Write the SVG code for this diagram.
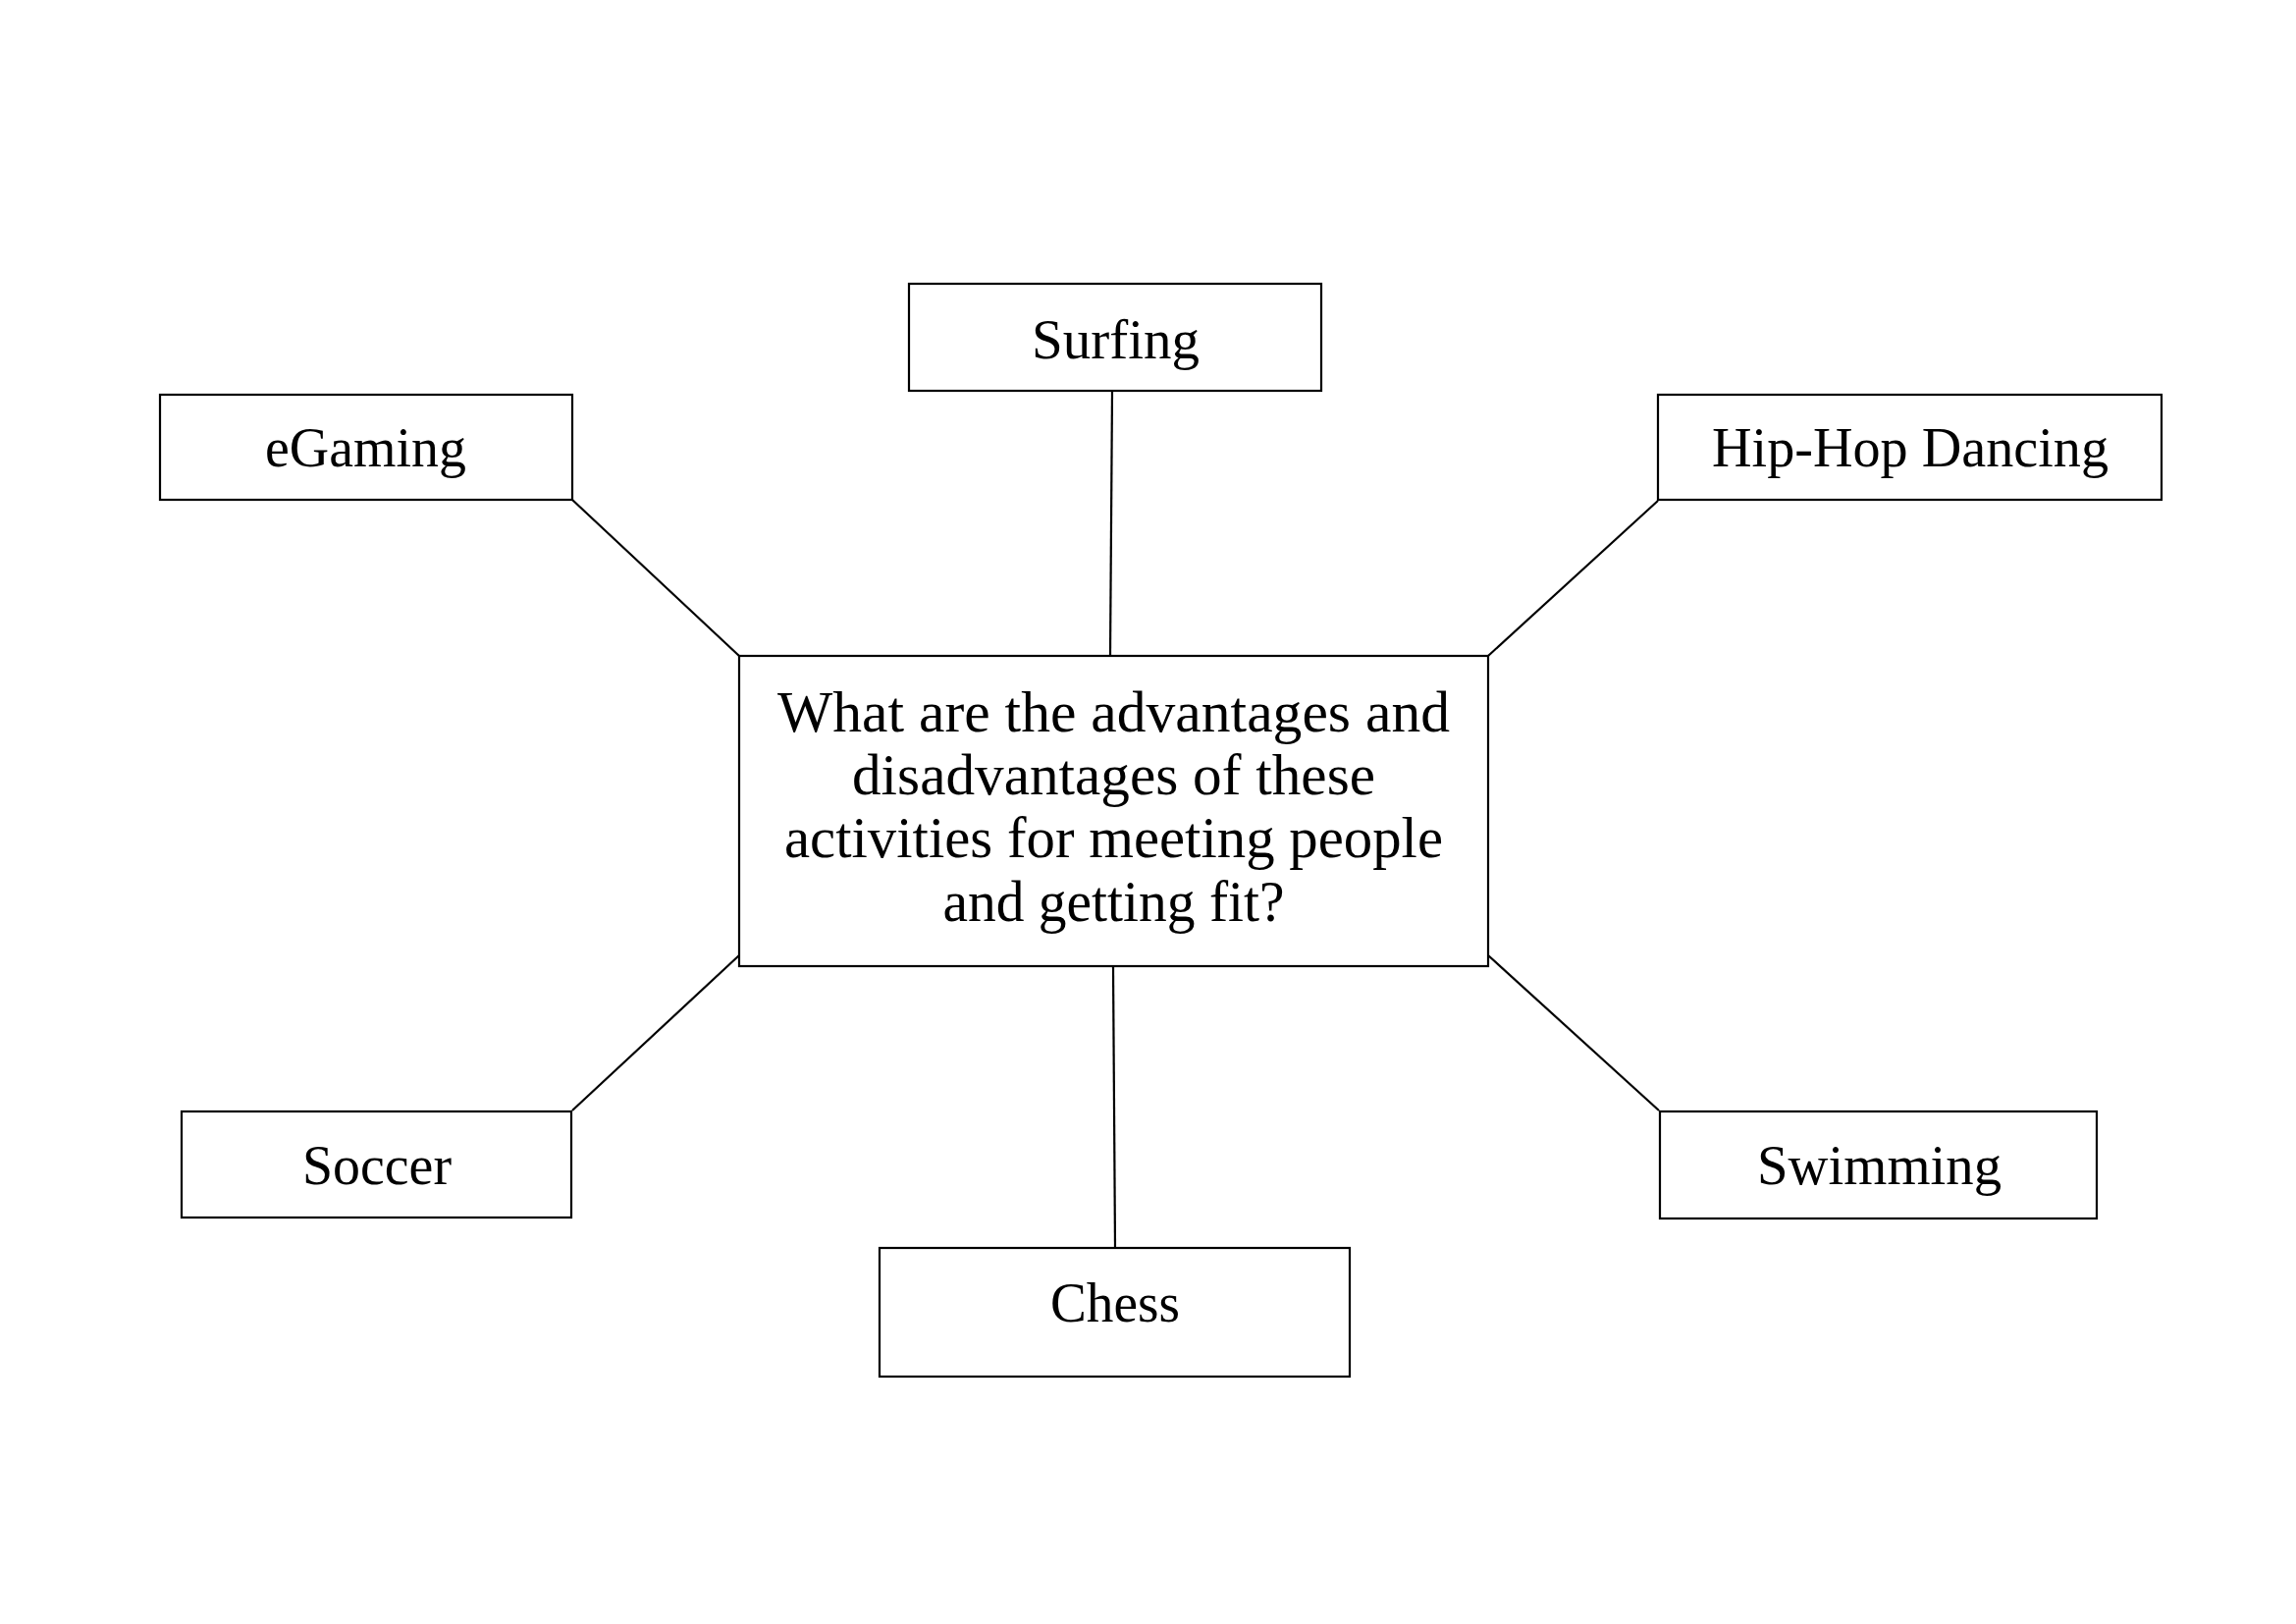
<svg xmlns="http://www.w3.org/2000/svg" width="2339" height="1654" viewBox="0 0 2339 1654">
<style>
.box{fill:#fff;stroke:#000;stroke-width:2.2}
.con line{stroke:#000;stroke-width:2.2}
text{font-family:"Liberation Serif",serif;fill:#000;text-anchor:middle}
.lbl{font-size:58px}
.q{font-size:60px}
</style>
<rect width="2339" height="1654" fill="#fff"/>
<g id="connectors" class="con">
<line x1="1133" y1="398" x2="1131" y2="668"/>
<line x1="583" y1="509" x2="753" y2="668"/>
<line x1="1689" y1="510" x2="1516" y2="668"/>
<line x1="583" y1="1131" x2="753" y2="973"/>
<line x1="1516" y1="973" x2="1690" y2="1131"/>
<line x1="1134" y1="985" x2="1136" y2="1271"/>
</g>
<g id="center">
<rect class="box" x="753" y="668" width="763" height="316"/>
<text class="q" x="1134.5" y="745" textLength="685" lengthAdjust="spacingAndGlyphs">What are the advantages and</text>
<text class="q" x="1134.5" y="809" textLength="533" lengthAdjust="spacingAndGlyphs">disadvantages of these</text>
<text class="q" x="1134.5" y="873" textLength="671" lengthAdjust="spacingAndGlyphs">activities for meeting people</text>
<text class="q" x="1134.5" y="938" textLength="348" lengthAdjust="spacingAndGlyphs">and getting fit?</text>
</g>
<g id="surfing">
<rect class="box" x="926" y="289" width="420" height="109"/>
<text class="lbl" x="1136.5" y="365" textLength="171" lengthAdjust="spacingAndGlyphs">Surfing</text>
</g>
<g id="egaming">
<rect class="box" x="163" y="402" width="420" height="107"/>
<text class="lbl" x="372.5" y="475" textLength="205" lengthAdjust="spacingAndGlyphs">eGaming</text>
</g>
<g id="hiphop">
<rect class="box" x="1689" y="402" width="513" height="107"/>
<text class="lbl" x="1946" y="475" textLength="404" lengthAdjust="spacingAndGlyphs">Hip-Hop Dancing</text>
</g>
<g id="soccer">
<rect class="box" x="185" y="1132" width="397" height="108"/>
<text class="lbl" x="384" y="1206" textLength="152" lengthAdjust="spacingAndGlyphs">Soccer</text>
</g>
<g id="chess">
<rect class="box" x="896" y="1271" width="479" height="131"/>
<text class="lbl" x="1136" y="1346" textLength="132" lengthAdjust="spacingAndGlyphs">Chess</text>
</g>
<g id="swimming">
<rect class="box" x="1691" y="1132" width="445" height="109"/>
<text class="lbl" x="1914.5" y="1206" textLength="249" lengthAdjust="spacingAndGlyphs">Swimming</text>
</g>
</svg>
